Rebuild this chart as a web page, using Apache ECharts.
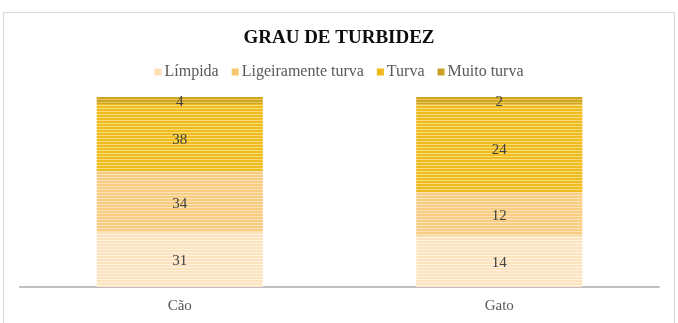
<!DOCTYPE html>
<html>
<head>
<meta charset="utf-8">
<script src="https://cdn.jsdelivr.net/npm/echarts@6/dist/echarts.min.js"></script>
<style>
  html, body { margin: 0; padding: 0; background: #fff; }
  #chart { width: 678px; height: 323px; }
</style>
</head>
<body>
<div id="chart"></div>
<script>
const categories = ['Cão', 'Gato']
const seriesNames = ['Límpida', 'Ligeiramente turva', 'Turva', 'Muito turva']
const limpida = [31, 14]
const ligeiramente = [34, 12]
const turva = [38, 24]
const muitoTurva = [4, 2]

const rawValues = [limpida, ligeiramente, turva, muitoTurva]
const totals = categories.map((c, i) => rawValues.reduce((s, arr) => s + arr[i], 0))

// base / stripe colours per series
const palette = [
  ['#fde3bd', '#fff4e4'],
  ['#f9cc84', '#fde4b8'],
  ['#f0bb1f', '#f9dc7c'],
  ['#cfa524', '#e7c65a']
]
const legendColors = ['#fde0b8', '#f8c770', '#efb71c', '#c9a021']

function stripes(base, line) {
  const c = document.createElement('canvas')
  c.width = 4
  c.height = 3
  const ctx = c.getContext('2d')
  ctx.fillStyle = base
  ctx.fillRect(0, 0, 4, 3)
  ctx.fillStyle = line
  ctx.fillRect(0, 0, 4, 1)
  return {image: c, repeat: 'repeat'}
}

const chart = echarts.init(document.getElementById('chart'))

const series = seriesNames.map((name, k) => ({
  name: name,
  type: 'bar',
  stack: 'total',
  barCategoryGap: '48%',
  color: legendColors[k],
  itemStyle: {color: stripes(palette[k][0], palette[k][1])},
  label: {
    show: true,
    position: k === 3 ? 'insideTop' : 'inside',
    distance: -2,
    offset: k === 3 ? [0, 0] : [0, 2],
    formatter: p => rawValues[k][p.dataIndex],
    color: '#404040',
    fontFamily: 'Liberation Serif',
    fontSize: 15
  },
  emphasis: {disabled: true},
  data: rawValues[k].map((v, i) => v / totals[i] * 100)
}))

chart.setOption({
  animation: false,
  graphic: [{
    type: 'rect',
    shape: {x: 3.5, y: 12.5, width: 671, height: 320},
    style: {fill: 'none', stroke: '#d9d9d9', lineWidth: 1},
    silent: true
  }],
  title: {
    text: 'GRAU DE TURBIDEZ',
    left: 'center',
    top: 24,
    textStyle: {
      fontFamily: 'Liberation Serif',
      fontWeight: 'bold',
      fontSize: 19,
      color: '#0d0d0d'
    }
  },
  legend: {
    top: 59,
    left: 'center',
    itemWidth: 7,
    itemHeight: 7,
    itemGap: 13,
    icon: 'rect',
    textStyle: {
      fontFamily: 'Liberation Serif',
      fontSize: 16,
      color: '#595959',
      padding: [0, 0, 0, -2]
    },
    data: seriesNames.map((n, k) => ({name: n, itemStyle: {color: legendColors[k]}}))
  },
  grid: {left: 20, right: 19, top: 97, bottom: 36, containLabel: false},
  xAxis: {
    type: 'category',
    data: categories,
    axisLine: {lineStyle: {color: '#bfbfbf', width: 2}},
    axisTick: {show: false},
    axisLabel: {
      margin: 12,
      fontFamily: 'Liberation Serif',
      fontSize: 15,
      color: '#595959'
    }
  },
  yAxis: {
    type: 'value',
    min: 0,
    max: 100,
    show: false,
    splitLine: {show: false}
  },
  series: series
})
</script>
</body>
</html>
